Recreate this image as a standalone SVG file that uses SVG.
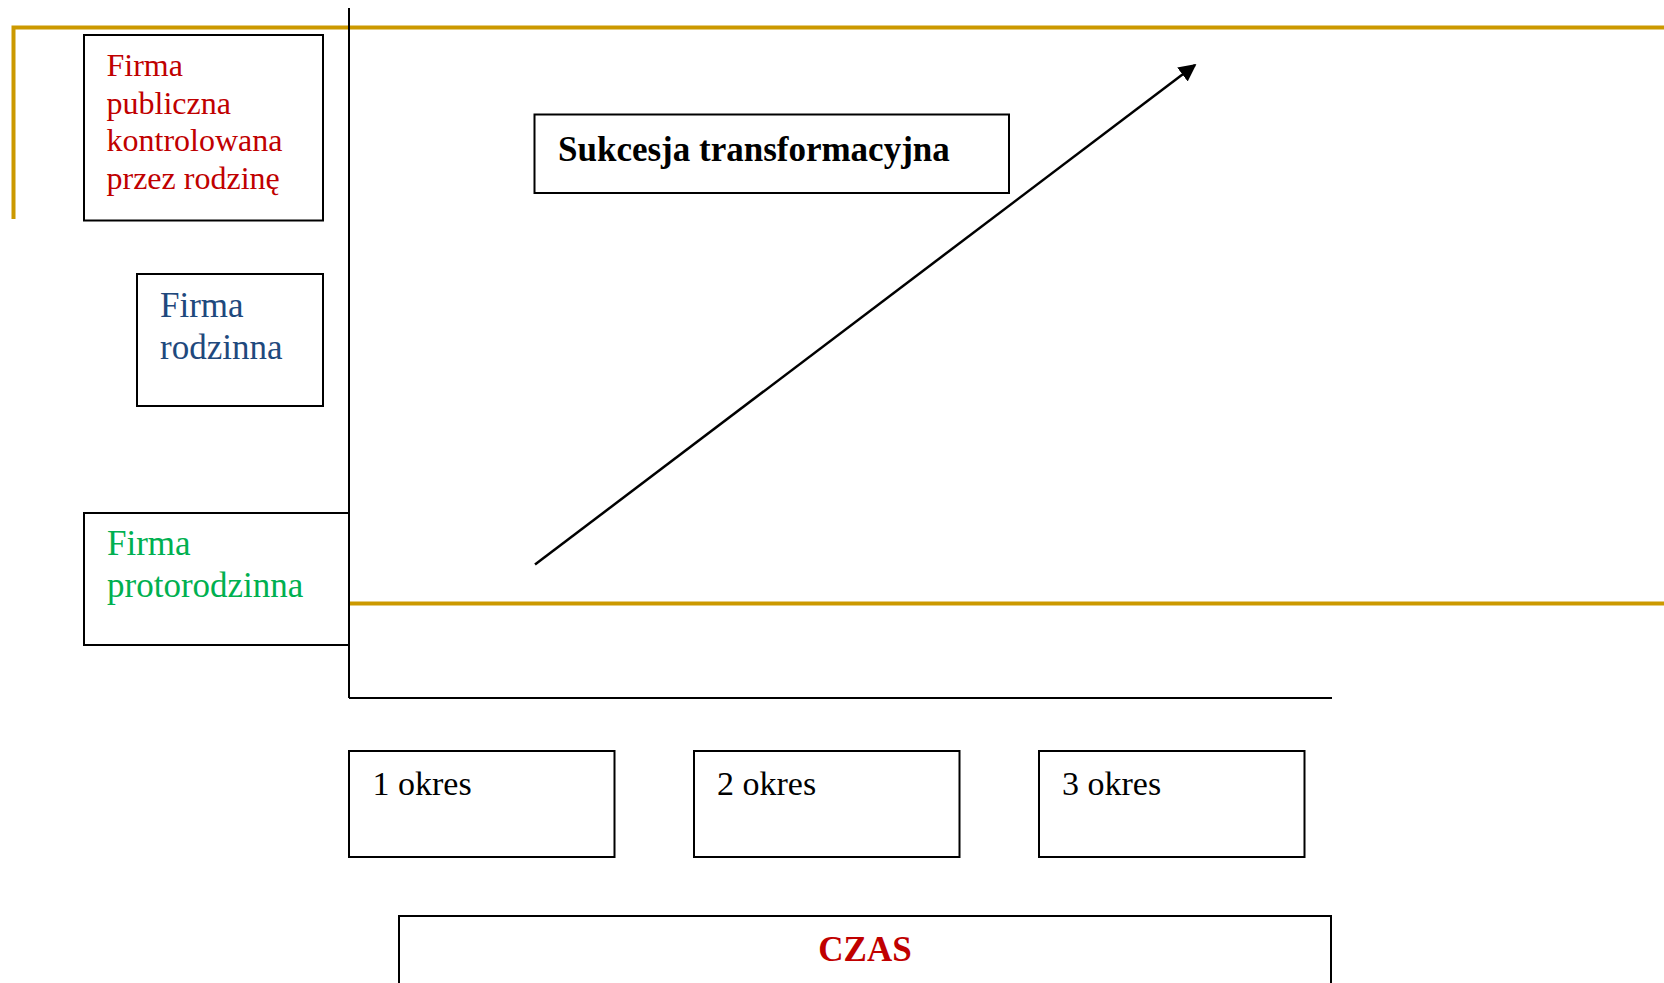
<svg xmlns="http://www.w3.org/2000/svg" width="1664" height="983" viewBox="0 0 1664 983">
<defs>
<style>
.box{fill:#fff;stroke:#000;stroke-width:2}
.t{font-family:"Liberation Serif","Times New Roman",serif}
.gold{stroke:#CC9900;stroke-width:4;fill:none}
.ax{stroke:#000;stroke-width:2;fill:none}
</style>
<marker id="ah" viewBox="0 0 10 10" refX="9" refY="5" markerWidth="7" markerHeight="7" markerUnits="strokeWidth" orient="auto">
<path d="M0,0 L10,5 L0,10 z" fill="#000"/>
</marker>
</defs>
<rect width="1664" height="983" fill="#fff"/>
<g id="connectors">
<polyline class="gold" points="13.5,219 13.5,27.5 1664,27.5"/>
<line class="gold" x1="349" y1="603.5" x2="1664" y2="603.5"/>
<line class="ax" x1="349" y1="8" x2="349" y2="698"/>
<line class="ax" x1="349" y1="698" x2="1332" y2="698"/>
<line x1="535" y1="564.5" x2="1195" y2="65" stroke="#000" stroke-width="2.5" marker-end="url(#ah)"/>
</g>
<g id="n-publiczna">
<rect class="box" x="84" y="35" width="239" height="185.5"/>
<text class="t" font-size="32" fill="#C00000"><tspan x="106.5" y="76">Firma</tspan><tspan x="106.5" y="113.5">publiczna</tspan><tspan x="106.5" y="151">kontrolowana</tspan><tspan x="106.5" y="188.5">przez rodzinę</tspan></text>
</g>
<g id="n-rodzinna">
<rect class="box" x="137" y="274" width="186" height="132"/>
<text class="t" font-size="35" fill="#1F497D"><tspan x="160" y="317">Firma</tspan><tspan x="160" y="359">rodzinna</tspan></text>
</g>
<g id="n-proto">
<rect class="box" x="84" y="513" width="265" height="132"/>
<text class="t" font-size="35" fill="#00B050"><tspan x="107" y="555">Firma</tspan><tspan x="107" y="597">protorodzinna</tspan></text>
</g>
<g id="n-sukcesja">
<rect class="box" x="534.5" y="114.5" width="474.5" height="78.5"/>
<text class="t" x="558" y="161" font-size="35" font-weight="bold" fill="#000">Sukcesja transformacyjna</text>
</g>
<g id="n-okres1">
<rect class="box" x="349" y="751" width="265.5" height="106"/>
<text class="t" x="372.5" y="795" font-size="34" fill="#000">1 okres</text>
</g>
<g id="n-okres2">
<rect class="box" x="694" y="751" width="265.5" height="106"/>
<text class="t" x="717" y="795" font-size="34" fill="#000">2 okres</text>
</g>
<g id="n-okres3">
<rect class="box" x="1039" y="751" width="265.5" height="106"/>
<text class="t" x="1062" y="795" font-size="34" fill="#000">3 okres</text>
</g>
<g id="n-czas">
<rect class="box" x="399" y="916" width="932" height="80"/>
<text class="t" x="865" y="961" font-size="35" font-weight="bold" fill="#C00000" text-anchor="middle">CZAS</text>
</g>
</svg>
